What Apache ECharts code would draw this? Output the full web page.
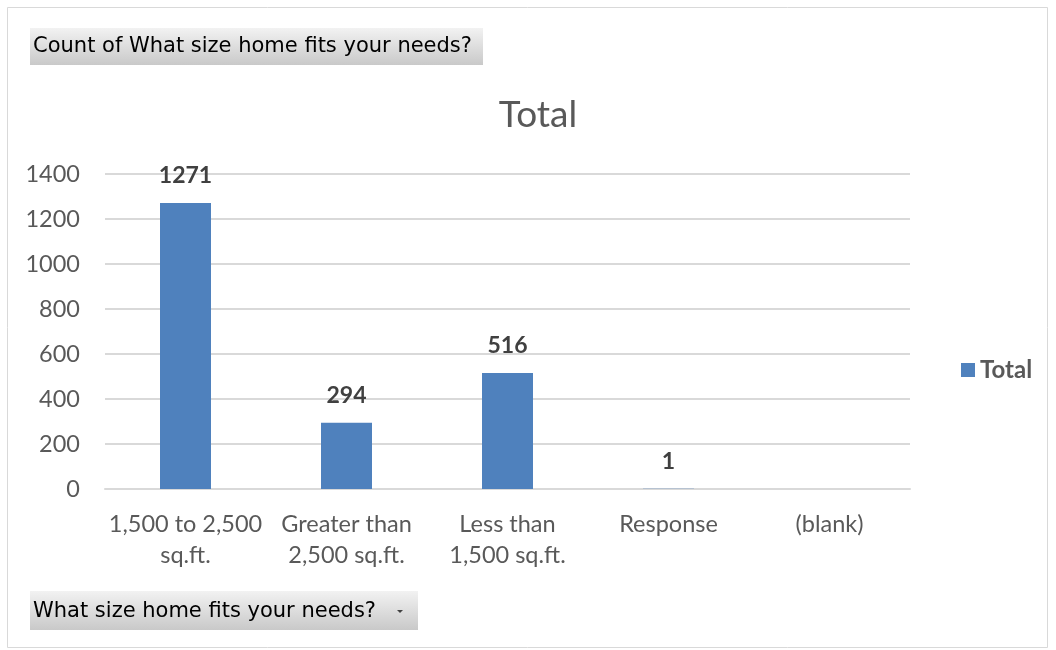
<!DOCTYPE html>
<html>
<head>
<meta charset="utf-8">
<script src="https://cdn.jsdelivr.net/npm/echarts@6/dist/echarts.min.js"></script>
<style>
  html, body { margin: 0; padding: 0; background: #ffffff; }
  #chart { width: 1056px; height: 650px; }
</style>
</head>
<body>
<div id="chart"></div>
<script>
// Home size survey: response counts per category
const categories = ['1,500 to 2,500\nsq.ft.', 'Greater than\n2,500 sq.ft.', 'Less than\n1,500 sq.ft.', 'Response', '(blank)'];
const totals = [1271, 294, 516, 1, null];
const yTicks = { min: 0, max: 1400, interval: 200 };

const FONT = 'Lato, "Open Sans", sans-serif';
const BTN_FONT = '"DejaVu Sans", Verdana, sans-serif';
const btnFill = new echarts.graphic.LinearGradient(0, 0, 0, 1, [
  { offset: 0, color: '#f2f2f2' },
  { offset: 1, color: '#c9c9c9' }
]);

const chart = echarts.init(document.getElementById('chart'), null, { renderer: 'canvas' });
chart.setOption({
  animation: false,
  backgroundColor: '#ffffff',
  title: {
    text: 'Total',
    left: 533,
    textAlign: 'center',
    top: 92,
    textStyle: { fontFamily: FONT, fontSize: 37, fontWeight: 'normal', color: '#595959' }
  },
  legend: {
    data: ['Total'],
    left: 956,
    top: 353,
    itemWidth: 14,
    itemHeight: 14,
    itemGap: 7,
    icon: 'rect',
    textStyle: { fontFamily: FONT, fontSize: 24, fontWeight: 'bold', color: '#595959' }
  },
  grid: { left: 105, right: 146, top: 174, bottom: 161 },
  xAxis: {
    type: 'category',
    data: categories,
    axisLine: { lineStyle: { color: '#d9d9d9', width: 2 } },
    axisTick: { show: false },
    axisLabel: {
      fontFamily: FONT, fontSize: 23.5, color: '#595959',
      lineHeight: 31, margin: 20, interval: 0
    }
  },
  yAxis: {
    type: 'value',
    min: yTicks.min, max: yTicks.max, interval: yTicks.interval,
    axisLine: { show: false },
    axisTick: { show: false },
    splitLine: { lineStyle: { color: '#d9d9d9', width: 2 } },
    axisLabel: {
      fontFamily: FONT, fontSize: 23.5, color: '#595959', margin: 25,
      formatter: v => String(v)
    }
  },
  series: [{
    name: 'Total',
    type: 'bar',
    data: totals,
    barWidth: 51,
    itemStyle: { color: '#4f81bd' },
    label: {
      show: true,
      position: 'top',
      distance: 16,
      fontFamily: FONT, fontSize: 23, fontWeight: 'bold', color: '#404040'
    }
  }],
  graphic: [
    {
      type: 'rect', silent: true,
      shape: { x: 7.5, y: 7.5, width: 1040, height: 640 },
      style: { fill: 'none', stroke: '#d9d9d9', lineWidth: 1 }
    },
    {
      type: 'rect', silent: true,
      shape: { x: 30, y: 28, width: 453, height: 37 },
      style: { fill: btnFill }
    },
    {
      type: 'text', silent: true,
      left: 33, top: 36,
      style: { text: 'Count of What size home fits your needs?', font: '21px ' + BTN_FONT, fill: '#000000' }
    },
    {
      type: 'rect', silent: true,
      shape: { x: 30, y: 591, width: 388, height: 39 },
      style: { fill: btnFill }
    },
    {
      type: 'text', silent: true,
      left: 33, top: 601,
      style: { text: 'What size home fits your needs?', font: '21px ' + BTN_FONT, fill: '#000000' }
    },
    {
      type: 'polygon', silent: true,
      shape: { points: [[397, 610], [403, 610], [400, 613]] },
      style: { fill: '#404040' }
    }
  ]
});
</script>
</body>
</html>
